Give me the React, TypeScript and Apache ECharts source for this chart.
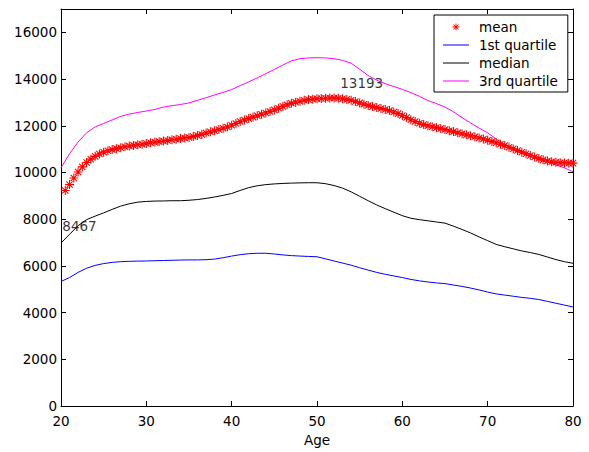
import React, { useEffect, useRef } from "react";
import * as echarts from "echarts";

// ---- data ----
const meanStartAge = 20.5;
const meanStep = 0.5;
const meanValues = [
  9230, 9480, 9760, 10020, 10240, 10430, 10570, 10690, 10790, 10870,
  10930, 10980, 11020, 11060, 11100, 11130, 11160, 11190, 11210, 11240,
  11270, 11300, 11320, 11350, 11370, 11400, 11420, 11450, 11480, 11500,
  11540, 11580, 11630, 11690, 11740, 11790, 11840, 11890, 11950, 12020,
  12100, 12180, 12250, 12310, 12370, 12430, 12490, 12550, 12610, 12680,
  12750, 12830, 12900, 12960, 13010, 13050, 13090, 13120, 13140, 13160,
  13170, 13180, 13190, 13193, 13180, 13160, 13130, 13090, 13040, 12980,
  12920, 12870, 12820, 12780, 12740, 12700, 12650, 12590, 12520, 12440,
  12350, 12260, 12180, 12110, 12050, 12000, 11960, 11920, 11880, 11840,
  11790, 11750, 11700, 11660, 11610, 11570, 11530, 11480, 11430, 11380,
  11330, 11270, 11210, 11150, 11080, 11010, 10940, 10870, 10800, 10730,
  10660, 10600, 10540, 10490, 10460, 10440, 10420, 10410, 10400, 10400,
];
const meanAges = meanValues.map((_, i) => meanStartAge + i * meanStep);

const lineAges = Array.from({ length: 61 }, (_, i) => 20 + i);
const q1Values = [
  5330, 5500, 5720, 5900, 6020, 6100, 6150, 6180, 6195, 6205,
  6210, 6220, 6230, 6240, 6250, 6255, 6255, 6265, 6290, 6350,
  6420, 6480, 6520, 6540, 6540, 6510, 6470, 6440, 6420, 6405,
  6390, 6300, 6210, 6120, 6030, 5920, 5820, 5720, 5640, 5570,
  5500, 5420, 5360, 5310, 5270, 5240, 5180, 5120, 5050, 4970,
  4880, 4800, 4750, 4700, 4650, 4610, 4560, 4480, 4400, 4320,
  4240,
];
const medianValues = [
  6980, 7350, 7720, 7980, 8130, 8270, 8420, 8560, 8660, 8730,
  8760, 8775, 8780, 8790, 8790, 8810, 8840, 8890, 8950, 9020,
  9100, 9230, 9350, 9430, 9480, 9510, 9530, 9545, 9555, 9560,
  9560, 9520, 9440, 9330, 9170, 8980, 8790, 8610, 8450, 8300,
  8150, 8040, 7980, 7930, 7880, 7830, 7700, 7560, 7410, 7240,
  7080, 6920, 6820, 6730, 6640, 6570, 6490, 6380, 6270, 6180,
  6110,
];
const q3Values = [
  10200, 10800, 11300, 11700, 11950, 12100, 12250, 12400, 12500, 12570,
  12630, 12700, 12800, 12860, 12910, 12980, 13090, 13200, 13320, 13430,
  13550, 13720, 13880, 14050, 14230, 14410, 14600, 14780, 14870, 14905,
  14915, 14905, 14870, 14800, 14680, 14420, 14150, 13950, 13800, 13680,
  13560, 13420, 13260, 13080, 12950, 12800, 12600, 12350, 12120, 11900,
  11700, 11430, 11200, 11000, 10880, 10750, 10600, 10460, 10330, 10200,
  10030,
];

const annotations = [
  { age: 52.66, value: 13840, text: "13193" },
  { age: 20.1, value: 7723, text: "8467" },
];

const seriesNames = ["mean", "1st quartile", "median", "3rd quartile"];
const xTicks = { min: 20, max: 80, interval: 10 };
const yTicks = { min: 0, max: 17000, interval: 2000, lastLabel: 16000 };

const FONT = "DejaVu Sans";
const FS = 13.5;
const ASTERISK =
  "path://M0 4.4H10V5.6H0Z M4.4 0H5.6V10H4.4Z M1.92 1.08L8.92 8.08L8.08 8.92L1.08 1.92Z M8.08 1.08L8.92 1.92L1.92 8.92L1.08 8.08Z";
const LINE_ICON = "path://M0 0H26V1H0Z";

export default function App() {
  const ref = useRef<HTMLDivElement>(null);

  useEffect(() => {
    if (!ref.current) return;
    const chart = echarts.init(ref.current, null, { renderer: "svg" });
    const axisLine = { show: true, onZero: false, lineStyle: { color: "#000", width: 1 } };
    const axisTick = { show: true, inside: true, length: 5, lineStyle: { color: "#000", width: 1 } };
    const labelStyle = { color: "#000", fontFamily: FONT, fontSize: FS };

    chart.setOption({
      animation: false,
      backgroundColor: "#fff",
      grid: { left: 61, right: 16, top: 9, bottom: 40, containLabel: false },
      legend: {
        data: seriesNames.map((n, i) => (i === 0 ? { name: n } : { name: n, icon: LINE_ICON })),
        orient: "vertical",
        left: 434,
        top: 15,
        padding: [5, 10, 4, 9],
        itemWidth: 26,
        itemHeight: 7,
        itemGap: 4,
        backgroundColor: "#fff",
        borderColor: "#000",
        borderWidth: 1,
        borderRadius: 0,
        selectedMode: false,
        textStyle: { ...labelStyle, lineHeight: 14, padding: [0, 0, 0, 5] },
      },
      xAxis: [
        {
          type: "value",
          position: "bottom",
          min: xTicks.min,
          max: xTicks.max,
          interval: xTicks.interval,
          name: "Age",
          nameLocation: "middle",
          nameGap: 27,
          nameTextStyle: labelStyle,
          axisLine,
          axisTick,
          axisLabel: { ...labelStyle, margin: 8 },
          splitLine: { show: false },
        },
        {
          type: "value",
          position: "top",
          min: xTicks.min,
          max: xTicks.max,
          interval: xTicks.interval,
          axisLine,
          axisTick,
          axisLabel: { show: false },
          splitLine: { show: false },
        },
      ],
      yAxis: [
        {
          type: "value",
          position: "left",
          min: yTicks.min,
          max: yTicks.max,
          interval: yTicks.interval,
          axisLine,
          axisTick,
          axisLabel: {
            ...labelStyle,
            margin: 4,
            formatter: (v: number) => (v > yTicks.lastLabel ? "" : String(v)),
          },
          splitLine: { show: false },
        },
        {
          type: "value",
          position: "right",
          min: yTicks.min,
          max: yTicks.max,
          interval: yTicks.interval,
          axisLine,
          axisTick,
          axisLabel: { show: false },
          splitLine: { show: false },
        },
      ],
      series: [
        {
          name: "mean",
          type: "scatter",
          data: meanAges.map((a, i) => [a, meanValues[i]]),
          symbol: ASTERISK,
          symbolSize: 9,
          itemStyle: { color: "#ff0000", opacity: 1 },
          z: 4,
          silent: true,
        },
        {
          name: "1st quartile",
          type: "line",
          data: lineAges.map((a, i) => [a, q1Values[i]]),
          symbol: "none",
          itemStyle: { color: "#0000ff" },
          lineStyle: { color: "#0000ff", width: 1 },
          silent: true,
        },
        {
          name: "median",
          type: "line",
          data: lineAges.map((a, i) => [a, medianValues[i]]),
          symbol: "none",
          itemStyle: { color: "#000000" },
          lineStyle: { color: "#000000", width: 1 },
          silent: true,
        },
        {
          name: "3rd quartile",
          type: "line",
          data: lineAges.map((a, i) => [a, q3Values[i]]),
          symbol: "none",
          itemStyle: { color: "#ff00ff" },
          lineStyle: { color: "#ff00ff", width: 1 },
          silent: true,
        },
        {
          name: "annotations",
          type: "scatter",
          data: annotations.map((a) => ({ value: [a.age, a.value], name: a.text })),
          symbol: "circle",
          symbolSize: 1,
          itemStyle: { color: "rgba(0,0,0,0)" },
          label: {
            show: true,
            position: "right",
            distance: 0,
            formatter: "{b}",
            ...labelStyle,
          },
          z: 5,
          silent: true,
        },
      ],
    });
    return () => chart.dispose();
  }, []);

  return (
    <div
      ref={ref}
      style={{ position: "fixed", left: 0, top: 0, width: 589, height: 452, background: "#fff" }}
    />
  );
}
